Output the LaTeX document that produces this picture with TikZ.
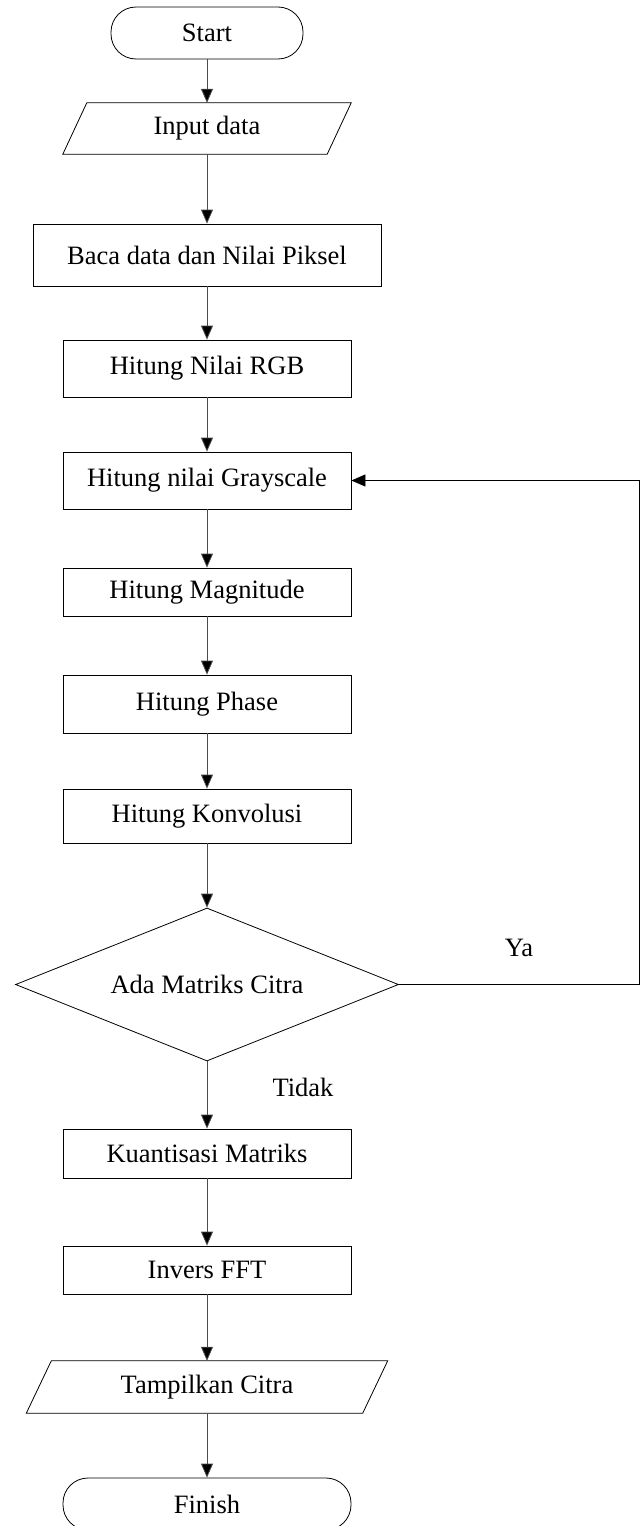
\documentclass[tikz,border=0pt]{standalone}
\usepackage{fontspec}
\setmainfont{Liberation Serif}
\usetikzlibrary{arrows.meta,shapes.geometric,calc}
\tikzset{
  base/.style={inner sep=0pt, font=\fontsize{26.5}{30}\selectfont, anchor=center},
  procbox/.style={base, draw, line width=0.8pt, minimum width=288pt},
  termbox/.style={base, draw, line width=0.8pt, rounded corners=25pt, minimum height=52pt},
  iobox/.style={base},
  decbox/.style={base, draw, diamond, line width=0.8pt, minimum width=383pt, minimum height=153pt, aspect=2.5},
  lbl/.style={inner sep=0pt, font=\fontsize{26.5}{30}\selectfont},
  arr/.style={draw=black!70, line width=0.8pt, -{Triangle[length=14pt,width=12pt,fill=black]}},
  fbarr/.style={draw=black, line width=0.8pt, -{Triangle[length=14pt,width=12pt,fill=black]}},
  iopath/.style={draw, line width=0.8pt}
}
\begin{document}
\begin{tikzpicture}[x=1pt,y=-1pt]
\useasboundingbox (0,0) rectangle (643,1526);
\node[termbox, minimum width=192pt] (start) at (207,33) {Start};
\node[iobox, minimum width=264pt, minimum height=51pt] (input) at (207,128.5) {Input data};
\draw[iopath] ($(input.north west)+(12,0)$) -- ($(input.north east)+(12,0)$) -- ($(input.south east)+(-12,0)$) -- ($(input.south west)+(-12,0)$) -- cycle;
\node[procbox, minimum width=348pt, minimum height=62pt] (baca) at (207,255) {Baca data dan Nilai Piksel};
\node[procbox, minimum height=57pt] (rgb) at (207,368.5) {Hitung Nilai RGB};
\node[procbox, minimum height=57pt] (gray) at (207,480.5) {Hitung nilai Grayscale};
\node[procbox, minimum height=48pt] (mag) at (207,592) {Hitung Magnitude};
\node[procbox, minimum height=58pt] (phase) at (207,704) {Hitung Phase};
\node[procbox, minimum height=54pt] (konv) at (207,816) {Hitung Konvolusi};
\node[decbox] (dec) at (207,984.5) {Ada Matriks Citra};
\node[procbox, minimum height=49pt] (kuant) at (207,1153.5) {Kuantisasi Matriks};
\node[procbox, minimum height=48pt] (ifft) at (207,1270) {Invers FFT};
\node[iobox, minimum width=336pt, minimum height=52pt] (tampil) at (207,1387) {Tampilkan Citra};
\draw[iopath] ($(tampil.north west)+(12.5,0)$) -- ($(tampil.north east)+(12.5,0)$) -- ($(tampil.south east)+(-12.5,0)$) -- ($(tampil.south west)+(-12.5,0)$) -- cycle;
\node[termbox, minimum width=288pt] (finish) at (207,1504) {Finish};
\node[lbl] (ya) at (519,948) {Ya};
\node[lbl] (tidak) at (303,1087) {Tidak};
\coordinate (fbx) at (639,700);
\draw[arr] (start) -- (input);
\draw[arr] (input) -- (baca);
\draw[arr] (baca) -- (rgb);
\draw[arr] (rgb) -- (gray);
\draw[arr] (gray) -- (mag);
\draw[arr] (mag) -- (phase);
\draw[arr] (phase) -- (konv);
\draw[arr] (konv) -- (dec);
\draw[arr] (dec) -- (kuant);
\draw[arr] (kuant) -- (ifft);
\draw[arr] (ifft) -- (tampil);
\draw[arr] (tampil) -- (finish);
\draw[fbarr] (dec.east) -- (dec.east -| fbx) -- (gray.east -| fbx) -- (gray.east);
\end{tikzpicture}
\end{document}
